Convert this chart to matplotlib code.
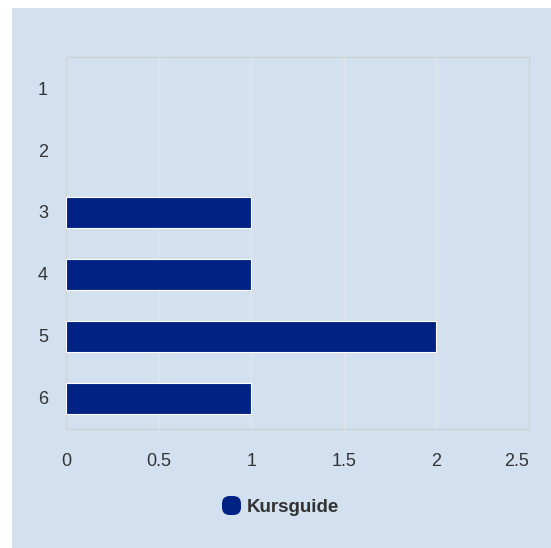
import matplotlib.pyplot as plt
from matplotlib.patches import Rectangle, FancyBboxPatch

plt.rcParams['font.family'] = ['Liberation Sans', 'DejaVu Sans']

categories = ['1', '2', '3', '4', '5', '6']
values = [0, 0, 1, 1, 2, 1]
series_name = 'Kursguide'
x_ticks = [0, 0.5, 1, 1.5, 2, 2.5]
x_labels = ['0', '0.5', '1', '1.5', '2', '2.5']

bg = '#d3e0ef'
bar_color = '#002284'
text_color = '#333333'

W, H = 551, 548
fig = plt.figure(figsize=(W / 100, H / 100), dpi=100)
fig.patch.set_facecolor('white')
fig.patches.append(Rectangle((12 / W, 0), 1 - 12 / W, 1 - 8 / H,
                             transform=fig.transFigure, facecolor=bg,
                             edgecolor='none', zorder=-1))

ax = fig.add_axes([66 / W, 1 - 429 / H, (529 - 66) / W, (429 - 57) / H])
ax.set_facecolor(bg)

ypos = list(range(len(categories)))
bars = ax.barh(ypos, values, height=0.5, color=bar_color, edgecolor='white',
               linewidth=0.8, zorder=3)
for b, v in zip(bars, values):
    if v == 0:
        b.set_linewidth(0)

ax.set_xlim(0, 2.5)
ax.set_ylim(len(categories) - 0.5, -0.5)
ax.set_yticks(ypos)
ax.set_yticklabels(categories)
ax.set_xticks(x_ticks)
ax.set_xticklabels(x_labels)
ax.tick_params(axis='both', length=0, colors=text_color, labelsize=13)
ax.tick_params(axis='x', pad=17)
ax.tick_params(axis='y', pad=13)
ax.get_xticklabels()[-1].set_horizontalalignment('right')

ax.grid(axis='x', color='#e2e6ea', linewidth=1, zorder=0)
ax.grid(axis='y', visible=False)
for s in ax.spines.values():
    s.set_color('#cfd3d6')
    s.set_linewidth(1)

# legend
fig.patches.append(FancyBboxPatch((222 / W, 1 - 515 / H), 19 / W, 19 / H,
                                  boxstyle='round,pad=0,rounding_size=0.014',
                                  transform=fig.transFigure, facecolor=bar_color,
                                  edgecolor='none', zorder=5))
fig.text(247 / W, 1 - 508 / H, series_name, fontsize=13.5, fontweight='bold',
         color=text_color, va='center', ha='left')

fig.savefig('out.png', dpi=100, facecolor=fig.get_facecolor())
